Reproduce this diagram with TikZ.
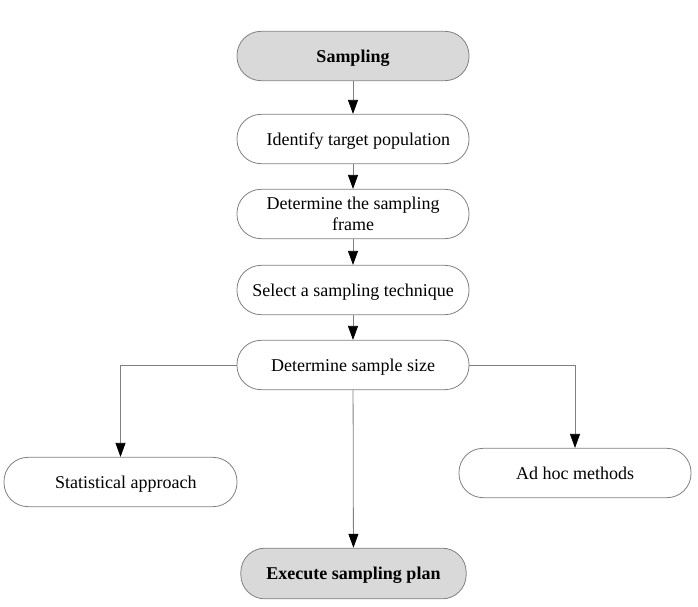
\documentclass[tikz,border=0pt]{standalone}
\usepackage{fontspec}
\setmainfont{Liberation Serif}
\usetikzlibrary{arrows.meta}
\definecolor{boxgray}{HTML}{D9D9D9}
\definecolor{linegray}{HTML}{808080}
\begin{document}
\begin{tikzpicture}[x=0.75pt,y=-0.75pt,
  box/.style={draw=linegray, line width=0.6pt, fill=white, rounded corners=18pt,
    minimum width=174pt, minimum height=37pt, inner sep=0pt, align=center,
    text depth=0pt, font=\fontsize{13.5}{15.5}\selectfont},
  keybox/.style={box, fill=boxgray, font=\fontsize{13.5}{15.5}\selectfont\bfseries},
  conn/.style={draw=linegray, line width=0.6pt, -{Triangle[width=7.5pt,length=10.5pt,color=black]}}]
\useasboundingbox (0,0) rectangle (698,606);
\node[keybox] (samp) at (353,56) {Sampling};
\node[box] (ident) at (353,139) {\hspace{8pt}Identify target population};
\node[box] (frame) at (353,214) {Determine the sampling\\frame};
\node[box] (tech) at (353,290) {Select a sampling technique};
\node[box] (size) at (353,365) {Determine sample size};
\node[box, minimum width=174.75pt] (stat) at (120.5,482) {\hspace{8pt}Statistical approach};
\node[box] (adhoc) at (575,473) {Ad hoc methods};
\node[keybox, minimum width=169pt, minimum height=38pt] (exec) at (353.5,573.5) {Execute sampling plan};
\draw[conn] (samp) -- (ident);
\draw[conn] (ident) -- (frame);
\draw[conn] (frame) -- (tech);
\draw[conn] (tech) -- (size);
\draw[conn] (size.west) -| (stat.north);
\draw[conn] (size.east) -| (adhoc.north);
\draw[conn] (size) -- (exec);
\end{tikzpicture}
\end{document}
